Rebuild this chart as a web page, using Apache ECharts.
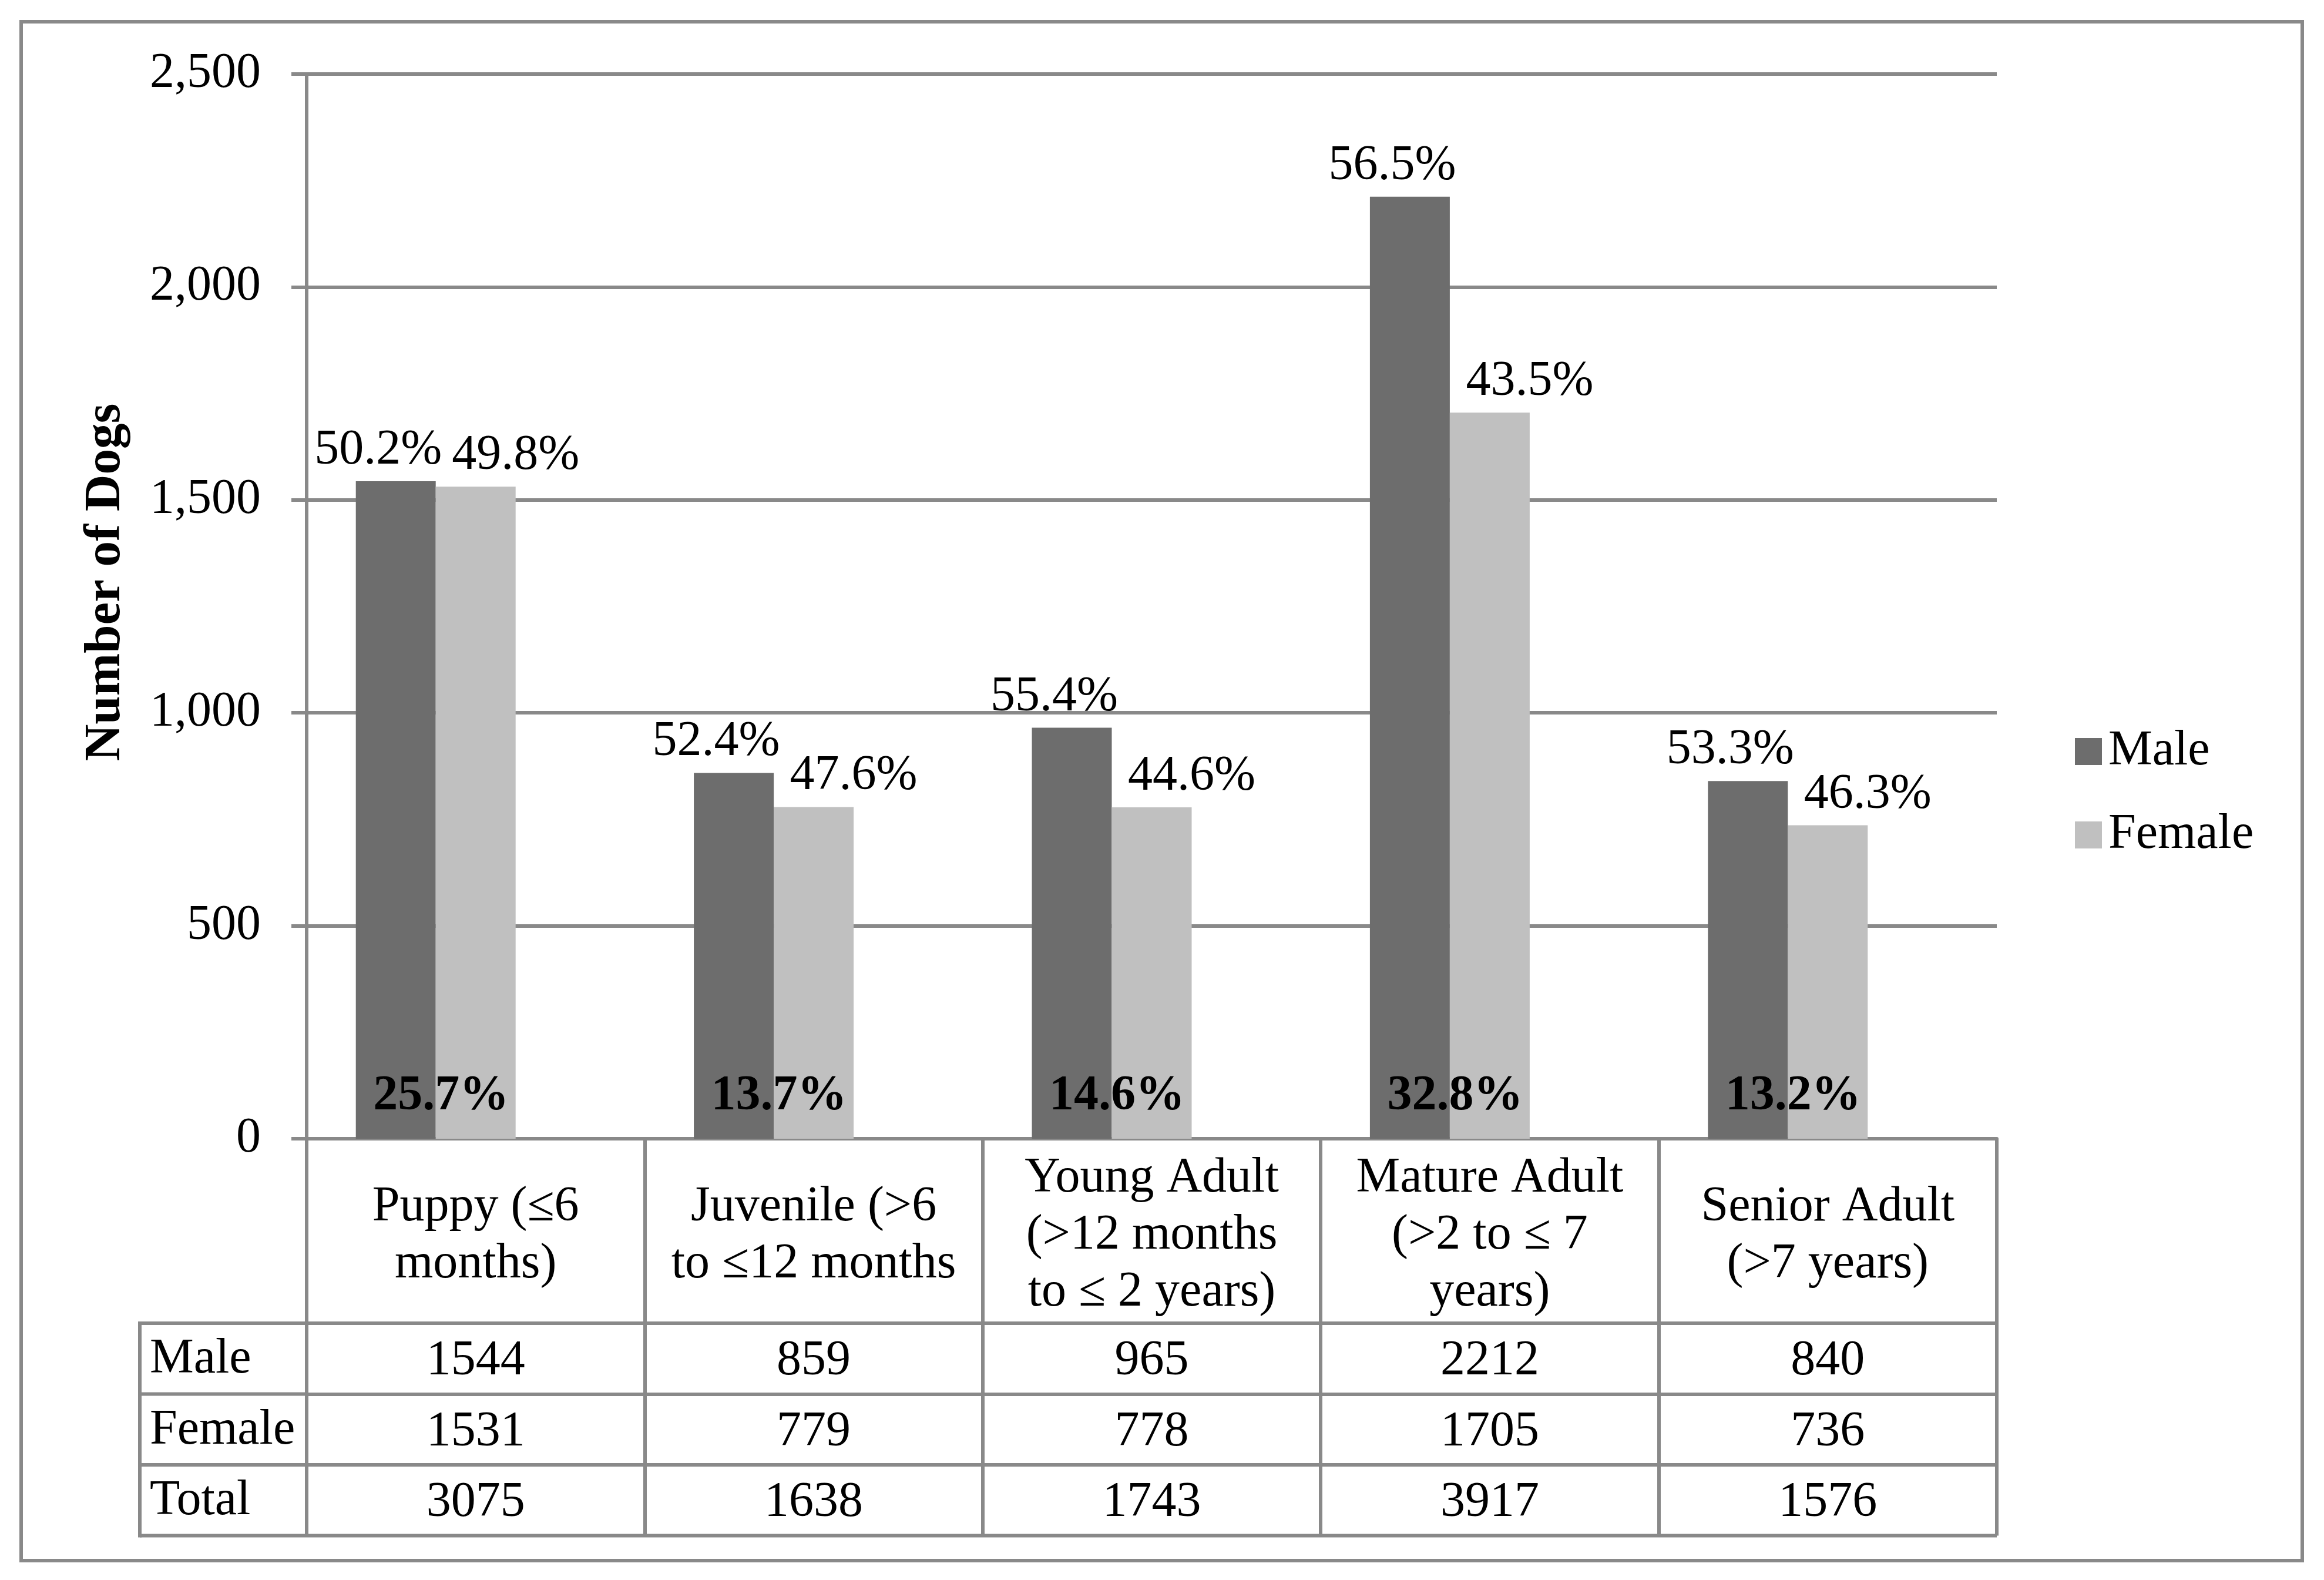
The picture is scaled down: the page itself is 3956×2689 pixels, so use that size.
<!DOCTYPE html>
<html>
<head>
<meta charset="utf-8">
<title>Number of Dogs by Age Group and Sex</title>
<script src="https://cdn.jsdelivr.net/npm/echarts@6/dist/echarts.min.js"></script>
<style>
	html, body { margin: 0; padding: 0; background: #fff; }
	#dogChart { width: 3956px; height: 2689px; }
</style>
</head>
<body>
<div id="dogChart"></div>
<script>
	"use strict";

	/*---- data ----*/
	var ageGroups = [
		'Puppy (≤6\nmonths)',
		'Juvenile (>6\nto ≤12 months',
		'Young Adult\n(>12 months\nto ≤ 2 years)',
		'Mature Adult\n(>2 to ≤ 7\nyears)',
		'Senior Adult\n(>7 years)'
	];
	var maleCounts = [1544, 859, 965, 2212, 840];
	var femaleCounts = [1531, 779, 778, 1705, 736];
	var totalCounts = [3075, 1638, 1743, 3917, 1576];
	var malePct = ['50.2%', '52.4%', '55.4%', '56.5%', '53.3%'];
	var femalePct = ['49.8%', '47.6%', '44.6%', '43.5%', '46.3%'];
	var sharePct = ['25.7%', '13.7%', '14.6%', '32.8%', '13.2%'];
	var yMin = 0, yMax = 2500, yStep = 500;
	/*---- data ----*/

	var FONT = "'Liberation Serif', 'Times New Roman', serif";
	var LINE = '#898989';
	var LW = 6;

	// chart frame in px
	var gLeft = 522, gTop = 126, gRight = 3399, gBottom = 1938;
	var headH = 314, rowH = 120.5;
	var tableLeft = 238;

	function rowAxis(name, values, offset) {
		return {
			type: 'category',
			gridIndex: 0,
			position: 'bottom',
			offset: offset,
			data: values,
			axisLine: { show: true, lineStyle: { color: LINE, width: LW } },
			axisTick: { show: true, interval: 0, length: rowH, lineStyle: { color: LINE, width: LW } },
			axisLabel: {
				interval: 0, margin: rowH / 2 + 5, verticalAlign: 'middle',
				fontSize: 84, fontFamily: FONT, color: '#000'
			},
			splitLine: { show: false },
			name: name,
			nameLocation: 'start',
			nameGap: gLeft - 255,
			nameMoveOverlap: false,
			nameTextStyle: {
				align: 'left', verticalAlign: 'top', lineHeight: rowH + 4,
				fontSize: 84, fontFamily: FONT, color: '#000'
			}
		};
	}

	var tableLines = [];
	[0, 1, 2, 3].forEach(function (i) {
		var y = gBottom + headH + rowH * i;
		tableLines.push({
			type: 'line',
			shape: { x1: tableLeft, y1: y, x2: i === 3 ? gRight : gLeft, y2: y },
			style: { stroke: LINE, lineWidth: LW }
		});
	});
	tableLines.push({
		type: 'line',
		shape: { x1: tableLeft, y1: gBottom + headH - LW / 2, x2: tableLeft, y2: gBottom + headH + rowH * 3 + LW / 2 },
		style: { stroke: LINE, lineWidth: LW }
	});

	var option = {
		backgroundColor: '#fff',
		animation: false,
		textStyle: { fontFamily: FONT },
		grid: {
			left: gLeft, top: gTop, width: gRight - gLeft, height: gBottom - gTop,
			containLabel: false, outerBoundsMode: 'none'
		},
		legend: {
			data: ['Male', 'Female'],
			orient: 'vertical',
			left: 3527,
			top: 1232,
			icon: 'rect',
			itemWidth: 46,
			itemHeight: 46,
			itemGap: 58,
			selectedMode: false,
			textStyle: { fontSize: 84, lineHeight: 84, fontFamily: FONT, color: '#000', padding: [0, 0, 0, 6] }
		},
		xAxis: [
			{
				type: 'category',
				gridIndex: 0,
				position: 'bottom',
				data: ageGroups,
				axisLine: { show: true, lineStyle: { color: LINE, width: LW } },
				axisTick: { show: true, interval: 0, length: headH, lineStyle: { color: LINE, width: LW } },
				axisLabel: {
					interval: 0, margin: 165, verticalAlign: 'middle', lineHeight: 97,
					fontSize: 84, fontFamily: FONT, color: '#000'
				},
				splitLine: { show: false }
			},
			rowAxis('Male', maleCounts, headH),
			rowAxis('Female', femaleCounts, headH + rowH),
			rowAxis('Total', totalCounts, headH + rowH * 2)
		],
		yAxis: {
			type: 'value',
			min: yMin,
			max: yMax,
			interval: yStep,
			axisLine: { show: true, lineStyle: { color: LINE, width: LW } },
			axisTick: { show: true, length: 26, lineStyle: { color: LINE, width: LW } },
			splitLine: { show: true, lineStyle: { color: LINE, width: LW } },
			axisLabel: {
				margin: 78, fontSize: 84, fontFamily: FONT, color: '#000',
				formatter: function (v) { return v.toLocaleString('en-US'); }
			},
			name: 'Number of Dogs',
			nameLocation: 'middle',
			nameRotate: 90,
			nameGap: 298,
			nameMoveOverlap: false,
			nameTextStyle: {
				fontSize: 87, fontWeight: 'bold', fontFamily: FONT, color: '#000',
				padding: [0, 0, 0, 82]
			}
		},
		series: [
			{
				name: 'Male',
				type: 'bar',
				data: maleCounts,
				barWidth: 136,
				barGap: '0%',
				itemStyle: { color: '#6d6d6d' },
				label: {
					show: true, position: 'top', distance: 10, offset: [-30, 0],
					fontSize: 84, fontFamily: FONT, color: '#000',
					formatter: function (p) { return malePct[p.dataIndex]; }
				}
			},
			{
				name: 'Female',
				type: 'bar',
				data: femaleCounts,
				barWidth: 136,
				barGap: '0%',
				itemStyle: { color: '#c0c0c0' },
				label: {
					show: true, position: 'top', distance: 10, offset: [68, 0],
					fontSize: 84, fontFamily: FONT, color: '#000',
					formatter: function (p) { return femalePct[p.dataIndex]; }
				}
			},
			{
				// hidden total series: keeps the third slot and carries the share labels
				name: 'Total',
				type: 'bar',
				data: totalCounts,
				barWidth: 136,
				barGap: '0%',
				silent: true,
				itemStyle: { color: 'rgba(0,0,0,0)' },
				label: {
					show: true, position: 'insideBottom', distance: 30, offset: [-195, 0],
					fontSize: 84, fontWeight: 'bold', fontFamily: FONT, color: '#000',
					formatter: function (p) { return sharePct[p.dataIndex]; }
				}
			}
		],
		graphic: [
			{
				type: 'rect',
				shape: { x: 36, y: 37, width: 3883, height: 2619 },
				style: { fill: 'none', stroke: LINE, lineWidth: LW },
				silent: true
			}
		].concat(tableLines)
	};

	var chartDom = document.getElementById('dogChart');
	var dogChart = echarts.init(chartDom);
	dogChart.setOption(option);
	window.addEventListener('resize', function () {
		dogChart.resize();
	});
</script>
</body>
</html>
